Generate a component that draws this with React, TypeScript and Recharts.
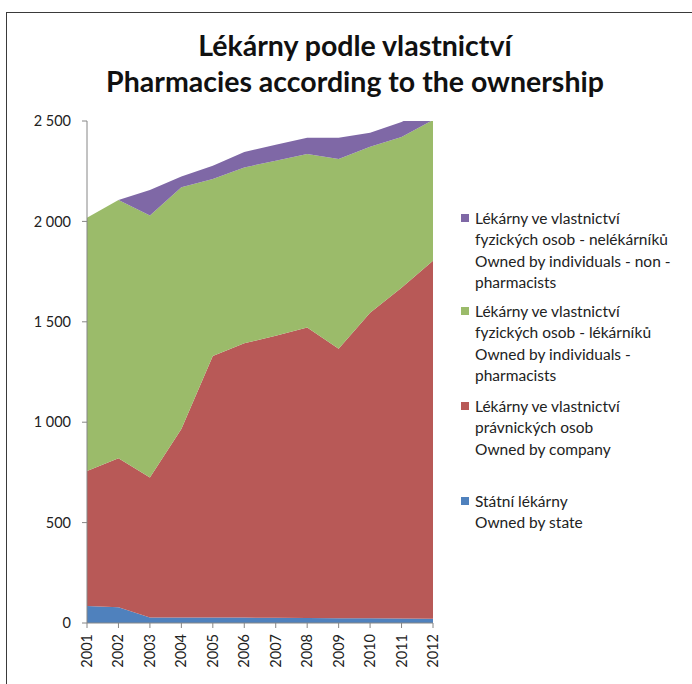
import React from 'react';
import { AreaChart, Area, XAxis, YAxis } from 'recharts';

const years = ['2001', '2002', '2003', '2004', '2005', '2006', '2007', '2008', '2009', '2010', '2011', '2012'];
const stateOwned = [85, 78, 28, 28, 28, 27, 26, 25, 24, 24, 23, 21];
const companyOwned = [672, 742, 696, 938, 1302, 1366, 1405, 1447, 1342, 1521, 1647, 1783];
const pharmacistOwned = [1261, 1286, 1306, 1204, 881, 876, 871, 864, 945, 827, 750, 701];
const nonPharmacistOwned = [0, 0, 126, 53, 66, 77, 80, 81, 106, 70, 75, 70];
const yTicks = [0, 500, 1000, 1500, 2000, 2500];

const series = [
  {
    key: 'nonPharm',
    color: '#7f68a6',
    lines: ['Lékárny ve vlastnictví', 'fyzických osob - nelékárníků', 'Owned by individuals - non -', 'pharmacists'],
  },
  {
    key: 'pharm',
    color: '#9bbb6a',
    lines: ['Lékárny ve vlastnictví', 'fyzických osob - lékárníků', 'Owned by individuals -', 'pharmacists'],
  },
  {
    key: 'company',
    color: '#b85957',
    lines: ['Lékárny ve vlastnictví', 'právnických osob', 'Owned by company'],
  },
  {
    key: 'state',
    color: '#4f81bd',
    lines: ['Státní lékárny', 'Owned by state'],
  },
];

const colorOf = (key: string) => series.find((s) => s.key === key)!.color;

const data = years.map((y, i) => ({
  year: y,
  state: stateOwned[i],
  company: companyOwned[i],
  pharm: pharmacistOwned[i],
  nonPharm: nonPharmacistOwned[i],
}));

const FONT = 'Lato, "Open Sans", sans-serif';

const formatTick = (v: number) => String(v).replace(/\B(?=(\d{3})+(?!\d))/g, ' ');

// legend drawn next to the plot, same spacing as the original
const LegendBox = () => {
  const tops = [0, 93, 188, 283];
  return (
    <div
      style={{
        position: 'absolute',
        left: 461,
        top: 208,
        width: 230,
        fontFamily: FONT,
        fontSize: 15.5,
        color: '#222',
      }}
    >
      {series.map((s, i) => (
        <div key={s.key} style={{ position: 'absolute', left: 0, top: tops[i] }}>
          <div style={{ position: 'absolute', left: 0, top: 6, width: 8, height: 8, background: s.color }} />
          <div style={{ marginLeft: 14, lineHeight: '21.3px', whiteSpace: 'nowrap' }}>
            {s.lines.map((l) => (
              <div key={l}>{l}</div>
            ))}
          </div>
        </div>
      ))}
    </div>
  );
};

const XTick = (props: any) => {
  const { x, y, payload } = props;
  return (
    <text
      x={x}
      y={y}
      transform={`rotate(-90, ${x}, ${y})`}
      textAnchor="end"
      dx={-4}
      dy={5}
      fontSize={14.5}
      fontFamily={FONT}
      fill="#222"
    >
      {payload.value}
    </text>
  );
};

export default function App() {
  return (
    <div style={{ position: 'absolute', left: 0, top: 0, width: 692, height: 684, background: '#fff', overflow: 'hidden' }}>
      <div
        style={{
          position: 'absolute',
          left: 6,
          top: 12,
          width: 700,
          height: 700,
          border: '1.5px solid #3a3a3a',
          boxSizing: 'border-box',
        }}
      />
      <div
        style={{
          position: 'absolute',
          left: 0,
          top: 27,
          width: 710,
          textAlign: 'center',
          fontFamily: FONT,
          fontWeight: 700,
          fontSize: 28.5,
          lineHeight: '36px',
          color: '#111',
        }}
      >
        <div>Lékárny podle vlastnictví</div>
        <div>Pharmacies according to the ownership</div>
      </div>
      <div style={{ position: 'absolute', left: 0, top: 0 }}>
        <AreaChart width={692} height={684} data={data} margin={{ top: 121, right: 259, left: 27, bottom: 11 }}>
          <XAxis
            dataKey="year"
            height={50}
            tick={<XTick />}
            interval={0}
            axisLine={{ stroke: '#868686' }}
            tickLine={{ stroke: '#868686' }}
            tickSize={5}
          />
          <YAxis
            width={60}
            domain={[0, 2500]}
            ticks={yTicks}
            allowDataOverflow
            tickFormatter={formatTick}
            tick={{ fontSize: 14.5, fontFamily: FONT, fill: '#222' }}
            axisLine={{ stroke: '#868686' }}
            tickLine={{ stroke: '#868686' }}
            tickSize={5}
            tickMargin={11}
          />
          <Area dataKey="state" stackId="1" type="linear" fill={colorOf('state')} fillOpacity={1} stroke="none" isAnimationActive={false} />
          <Area dataKey="company" stackId="1" type="linear" fill={colorOf('company')} fillOpacity={1} stroke="none" isAnimationActive={false} />
          <Area dataKey="pharm" stackId="1" type="linear" fill={colorOf('pharm')} fillOpacity={1} stroke="none" isAnimationActive={false} />
          <Area dataKey="nonPharm" stackId="1" type="linear" fill={colorOf('nonPharm')} fillOpacity={1} stroke="none" isAnimationActive={false} />
        </AreaChart>
      </div>
      <LegendBox />
    </div>
  );
}
